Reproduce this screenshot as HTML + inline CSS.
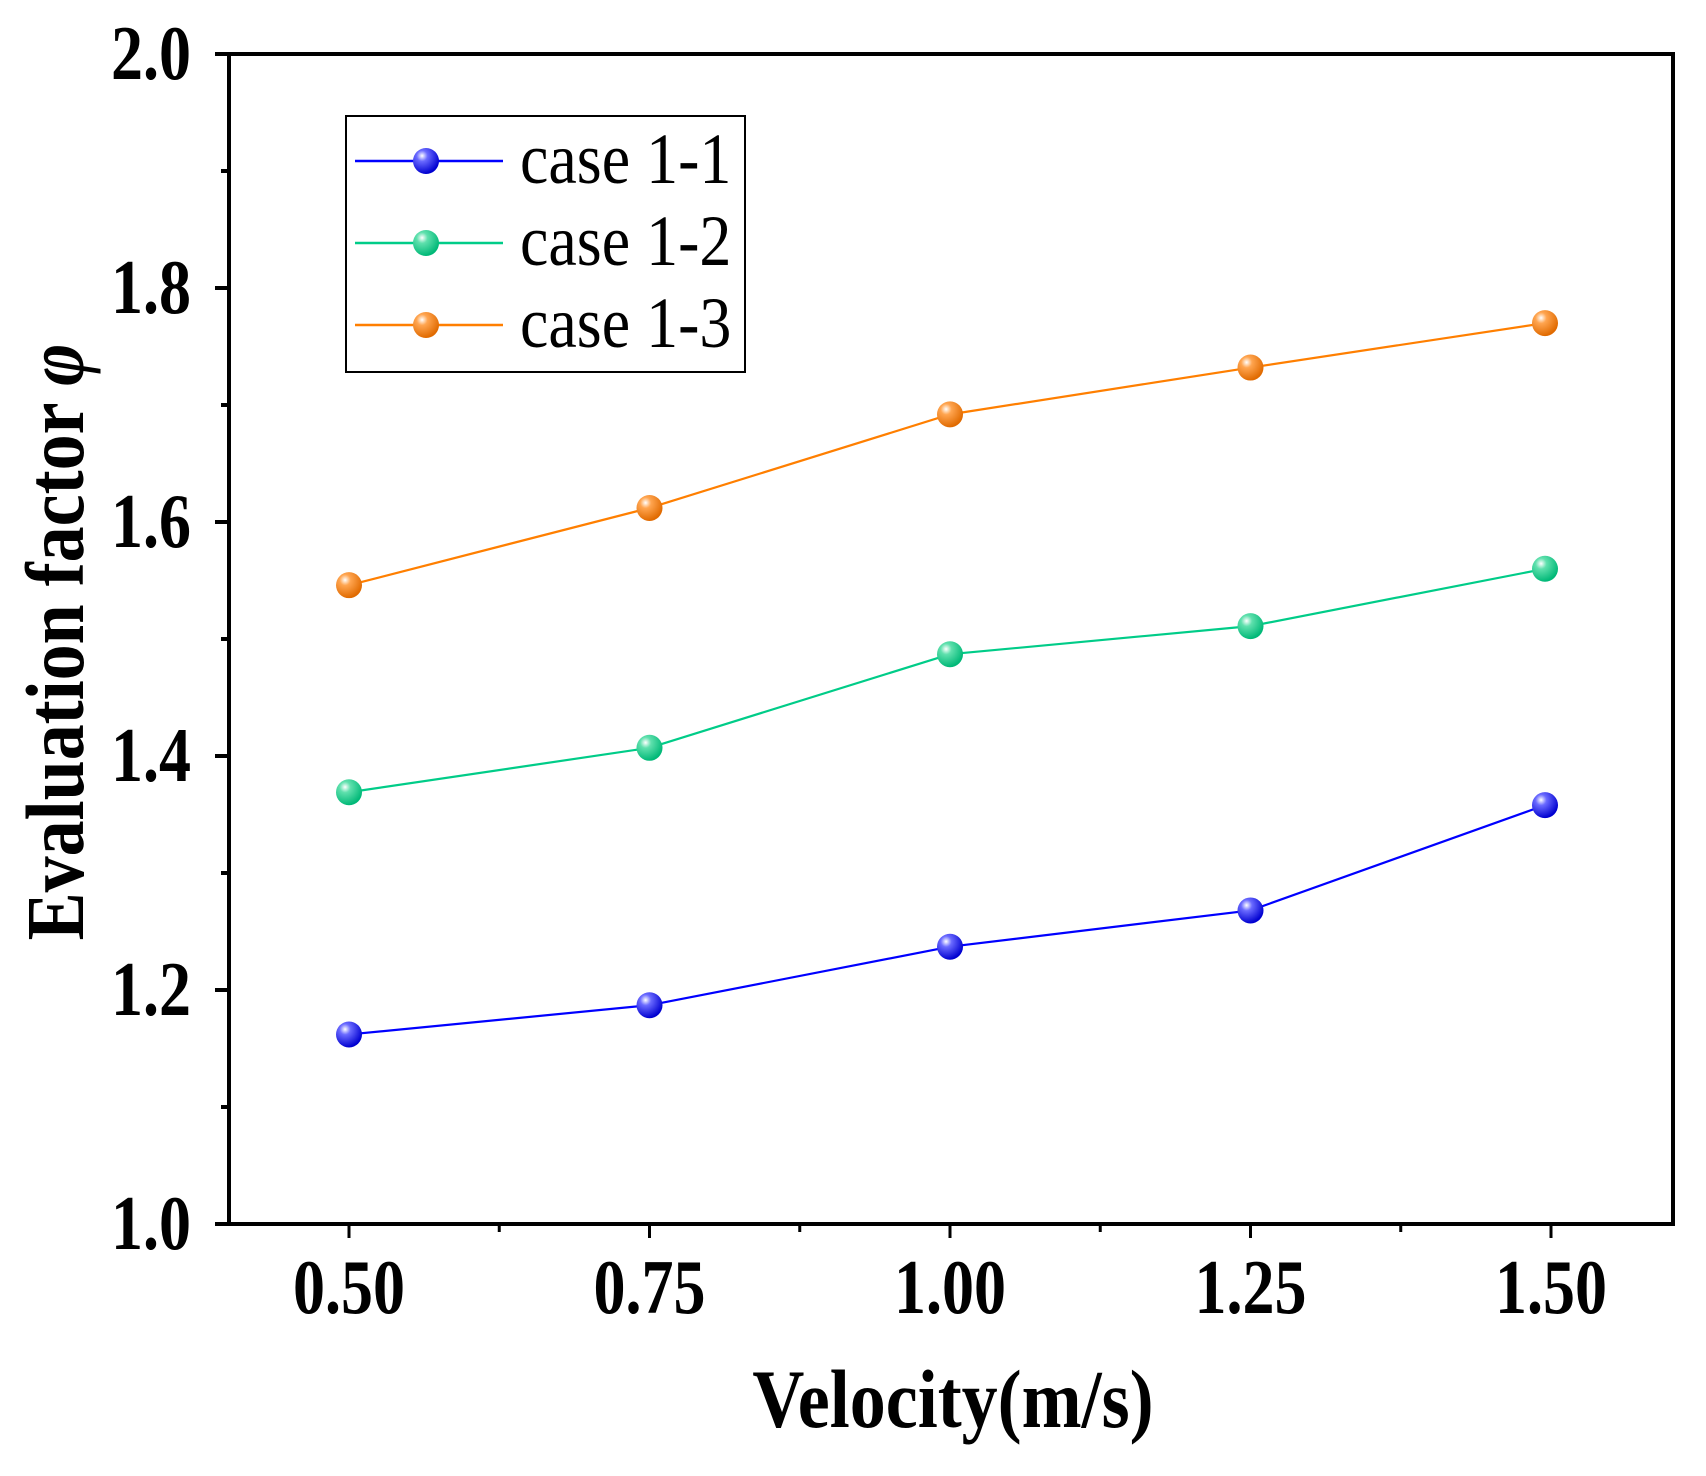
<!DOCTYPE html>
<html><head><meta charset="utf-8"><style>
html,body{margin:0;padding:0;background:#fff;}
svg{display:block;font-family:"Liberation Serif",serif;}
</style></head><body>
<svg id="chart" width="1706" height="1476" viewBox="0 0 1706 1476">
<defs>
<radialGradient id="gb" cx="0.35" cy="0.3" r="0.7"><stop offset="0" stop-color="#fff"/><stop offset="0.3" stop-color="#6a6aff"/><stop offset="1" stop-color="#0000d0"/></radialGradient>
<radialGradient id="gg" cx="0.35" cy="0.3" r="0.7"><stop offset="0" stop-color="#fff"/><stop offset="0.3" stop-color="#5fe0ad"/><stop offset="1" stop-color="#00b877"/></radialGradient>
<radialGradient id="go" cx="0.35" cy="0.3" r="0.7"><stop offset="0" stop-color="#fff"/><stop offset="0.3" stop-color="#ffa550"/><stop offset="1" stop-color="#e06a00"/></radialGradient>
</defs>
<g id="plot"></g>
</svg>
<script>
const categories=[0.5,0.75,1.0,1.25,1.495];
const case11=[1.162,1.187,1.237,1.268,1.358];
const case12=[1.369,1.407,1.487,1.511,1.560];
const case13=[1.546,1.612,1.692,1.732,1.770];
const xTicks=["0.50","0.75","1.00","1.25","1.50"];
const yTicks=["1.0","1.2","1.4","1.6","1.8","2.0"];
const L=229,R=1673,T=54,B=1224;
const xs=v=>349+(v-0.5)/0.25*300.5;
const ys=v=>B-(v-1)*(B-T);
const NS="http://www.w3.org/2000/svg";
const g=document.getElementById('plot');
function mk(t,a,p){const e=document.createElementNS(NS,t);for(const k in a)e.setAttribute(k,a[k]);(p||g).appendChild(e);return e;}
const frame=mk('rect',{x:L,y:T,width:R-L,height:B-T,fill:'none',stroke:'#000','stroke-width':4});


xTicks.forEach((t,i)=>{const v=0.5+i*0.25,x=xs(v);
 mk('line',{x1:x,y1:B,x2:x,y2:B+14,stroke:'#000','stroke-width':3});
 if(i<4){const xm=xs(v+0.125);mk('line',{x1:xm,y1:B,x2:xm,y2:B+8,stroke:'#000','stroke-width':3});}
 const tx=mk('text',{'text-anchor':'middle','font-size':64,'font-weight':'bold',transform:`translate(${x},1313) scale(1,1.2)`});tx.textContent=t;
 
 
});
yTicks.forEach((t,i)=>{const v=1+i*0.2,y=ys(v);
 mk('line',{x1:L,y1:y,x2:L-14,y2:y,stroke:'#000','stroke-width':4});
 if(i<5){const ym=ys(v+0.1);mk('line',{x1:L,y1:ym,x2:L-8,y2:ym,stroke:'#000','stroke-width':4});}
 const tx=mk('text',{'text-anchor':'end','font-size':64,'font-weight':'bold',transform:`translate(191,${y+25}) scale(1,1.2)`});tx.textContent=t;
 
 
});
const xt=mk('text',{'text-anchor':'middle','font-size':72,'font-weight':'bold',transform:'translate(953,1427) scale(1,1.15)'});xt.textContent='Velocity(m/s)';


const yt=mk('text',{'text-anchor':'middle','font-size':72,'font-weight':'bold',transform:'translate(83,642) rotate(-90) scale(1,1.15)'});
yt.innerHTML='Evaluation factor <tspan font-style="italic">φ</tspan>';


const series=[[case11,'#0000ff','url(#gb)','case 1-1'],[case12,'#00cc88','url(#gg)','case 1-2'],[case13,'#ff7f00','url(#go)','case 1-3']];
series.forEach((s,si)=>{
 const pts=categories.map((c,i)=>xs(c)+','+ys(s[0][i])).join(' ');
 const pl=mk('polyline',{points:pts,fill:'none',stroke:s[1],'stroke-width':2.2});
 
 
 categories.forEach((c,i)=>{const m=mk('circle',{cx:xs(c),cy:ys(s[0][i]),r:13,fill:s[2]});
  
  });
});
const lg=mk('g',{});


mk('rect',{x:346,y:116,width:399,height:256,fill:'#fff',stroke:'#000','stroke-width':2},lg);
series.forEach((s,i)=>{const y=161+i*82;
 const e=mk('g',{},lg);
 
 
 mk('line',{x1:355,y1:y,x2:503,y2:y,stroke:s[1],'stroke-width':2.5},e);
 mk('circle',{cx:426,cy:y,r:13,fill:s[2]},e);
 const t=mk('text',{'font-size':64,transform:`translate(520,${y+22}) scale(1,1.12)`},e);t.textContent=s[3];
});
</script>
</body></html>
